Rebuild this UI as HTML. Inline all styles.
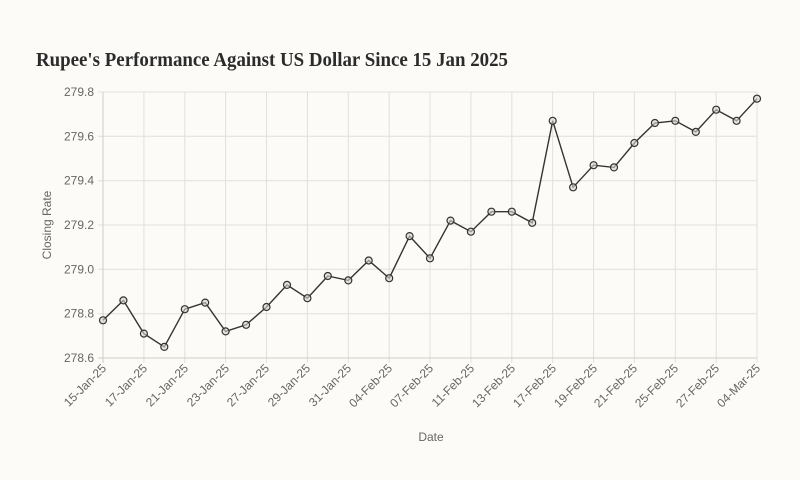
<!DOCTYPE html>
<html><head><meta charset="utf-8"><style>
html,body{margin:0;padding:0;background:#fcfbf8;}
svg{display:block;}
</style></head><body>
<svg width="800" height="480" xmlns="http://www.w3.org/2000/svg">
<rect width="800" height="480" fill="#fcfbf8"/>
<text x="36" y="66" font-family="Liberation Serif, serif" font-weight="bold" font-size="20" fill="#2b2b2b" textLength="472" lengthAdjust="spacingAndGlyphs">Rupee's Performance Against US Dollar Since 15 Jan 2025</text>
<g stroke="#e2e0db" stroke-width="1">
<line x1="98" y1="92" x2="757" y2="92"/><line x1="98" y1="136.3" x2="757" y2="136.3"/><line x1="98" y1="180.7" x2="757" y2="180.7"/><line x1="98" y1="225" x2="757" y2="225"/><line x1="98" y1="269.3" x2="757" y2="269.3"/><line x1="98" y1="313.7" x2="757" y2="313.7"/>
<line x1="143.9" y1="92" x2="143.9" y2="363"/><line x1="184.8" y1="92" x2="184.8" y2="363"/><line x1="225.6" y1="92" x2="225.6" y2="363"/><line x1="266.5" y1="92" x2="266.5" y2="363"/><line x1="307.4" y1="92" x2="307.4" y2="363"/><line x1="348.3" y1="92" x2="348.3" y2="363"/><line x1="389.2" y1="92" x2="389.2" y2="363"/><line x1="430" y1="92" x2="430" y2="363"/><line x1="470.9" y1="92" x2="470.9" y2="363"/><line x1="511.8" y1="92" x2="511.8" y2="363"/><line x1="552.7" y1="92" x2="552.7" y2="363"/><line x1="593.6" y1="92" x2="593.6" y2="363"/><line x1="634.4" y1="92" x2="634.4" y2="363"/><line x1="675.3" y1="92" x2="675.3" y2="363"/><line x1="716.2" y1="92" x2="716.2" y2="363"/><line x1="757" y1="92" x2="757" y2="363"/>
</g>
<g stroke="#cfccc6" stroke-width="1">
<line x1="103" y1="92" x2="103" y2="363"/><line x1="98" y1="358" x2="757" y2="358"/>
</g>
<g font-family="Liberation Sans, sans-serif" font-size="12" fill="#666" text-anchor="end">
<text x="94" y="96">279.8</text><text x="94" y="140.3">279.6</text><text x="94" y="184.7">279.4</text><text x="94" y="229">279.2</text><text x="94" y="273.3">279.0</text><text x="94" y="317.7">278.8</text><text x="94" y="362">278.6</text>
</g>
<text transform="translate(51,225) rotate(-90)" font-family="Liberation Sans, sans-serif" font-size="12" fill="#666" text-anchor="middle">Closing Rate</text>
<text x="431" y="441" font-family="Liberation Sans, sans-serif" font-size="12" fill="#666" text-anchor="middle">Date</text>
<g font-family="Liberation Sans, sans-serif" font-size="12" fill="#666" text-anchor="end">
<text transform="translate(107,369) rotate(-45)">15-Jan-25</text>
<text transform="translate(148,369) rotate(-45)">17-Jan-25</text>
<text transform="translate(189,369) rotate(-45)">21-Jan-25</text>
<text transform="translate(230,369) rotate(-45)">23-Jan-25</text>
<text transform="translate(270,369) rotate(-45)">27-Jan-25</text>
<text transform="translate(311,369) rotate(-45)">29-Jan-25</text>
<text transform="translate(352,369) rotate(-45)">31-Jan-25</text>
<text transform="translate(393,369) rotate(-45)">04-Feb-25</text>
<text transform="translate(434,369) rotate(-45)">07-Feb-25</text>
<text transform="translate(475,369) rotate(-45)">11-Feb-25</text>
<text transform="translate(516,369) rotate(-45)">13-Feb-25</text>
<text transform="translate(557,369) rotate(-45)">17-Feb-25</text>
<text transform="translate(598,369) rotate(-45)">19-Feb-25</text>
<text transform="translate(638,369) rotate(-45)">21-Feb-25</text>
<text transform="translate(679,369) rotate(-45)">25-Feb-25</text>
<text transform="translate(720,369) rotate(-45)">27-Feb-25</text>
<text transform="translate(761,369) rotate(-45)">04-Mar-25</text>
</g>
<polyline fill="none" stroke="#333" stroke-width="1.4" points="103,320.3 123.4,300.4 143.9,333.6 164.3,346.9 184.8,309.2 205.2,302.6 225.6,331.4 246.1,324.8 266.5,307 287,284.9 307.4,298.2 327.8,276 348.3,280.4 368.7,260.5 389.2,278.2 409.6,236.1 430,258.3 450.5,220.6 470.9,231.7 491.4,211.7 511.8,211.7 532.2,222.8 552.7,120.8 573.1,187.3 593.6,165.2 614,167.4 634.4,143 654.9,123 675.3,120.8 695.8,131.9 716.2,109.7 736.6,120.8 757,98.7"/>
<g fill="#d8d6d0" fill-opacity="0.6" stroke="#333" stroke-width="1.2">
<circle cx="103" cy="320.3" r="3.5"/><circle cx="123.4" cy="300.4" r="3.5"/><circle cx="143.9" cy="333.6" r="3.5"/><circle cx="164.3" cy="346.9" r="3.5"/><circle cx="184.8" cy="309.2" r="3.5"/><circle cx="205.2" cy="302.6" r="3.5"/><circle cx="225.6" cy="331.4" r="3.5"/><circle cx="246.1" cy="324.8" r="3.5"/><circle cx="266.5" cy="307" r="3.5"/><circle cx="287" cy="284.9" r="3.5"/><circle cx="307.4" cy="298.2" r="3.5"/><circle cx="327.8" cy="276" r="3.5"/><circle cx="348.3" cy="280.4" r="3.5"/><circle cx="368.7" cy="260.5" r="3.5"/><circle cx="389.2" cy="278.2" r="3.5"/><circle cx="409.6" cy="236.1" r="3.5"/><circle cx="430" cy="258.3" r="3.5"/><circle cx="450.5" cy="220.6" r="3.5"/><circle cx="470.9" cy="231.7" r="3.5"/><circle cx="491.4" cy="211.7" r="3.5"/><circle cx="511.8" cy="211.7" r="3.5"/><circle cx="532.2" cy="222.8" r="3.5"/><circle cx="552.7" cy="120.8" r="3.5"/><circle cx="573.1" cy="187.3" r="3.5"/><circle cx="593.6" cy="165.2" r="3.5"/><circle cx="614" cy="167.4" r="3.5"/><circle cx="634.4" cy="143" r="3.5"/><circle cx="654.9" cy="123" r="3.5"/><circle cx="675.3" cy="120.8" r="3.5"/><circle cx="695.8" cy="131.9" r="3.5"/><circle cx="716.2" cy="109.7" r="3.5"/><circle cx="736.6" cy="120.8" r="3.5"/><circle cx="757" cy="98.7" r="3.5"/>
</g>
</svg>
</body></html>
